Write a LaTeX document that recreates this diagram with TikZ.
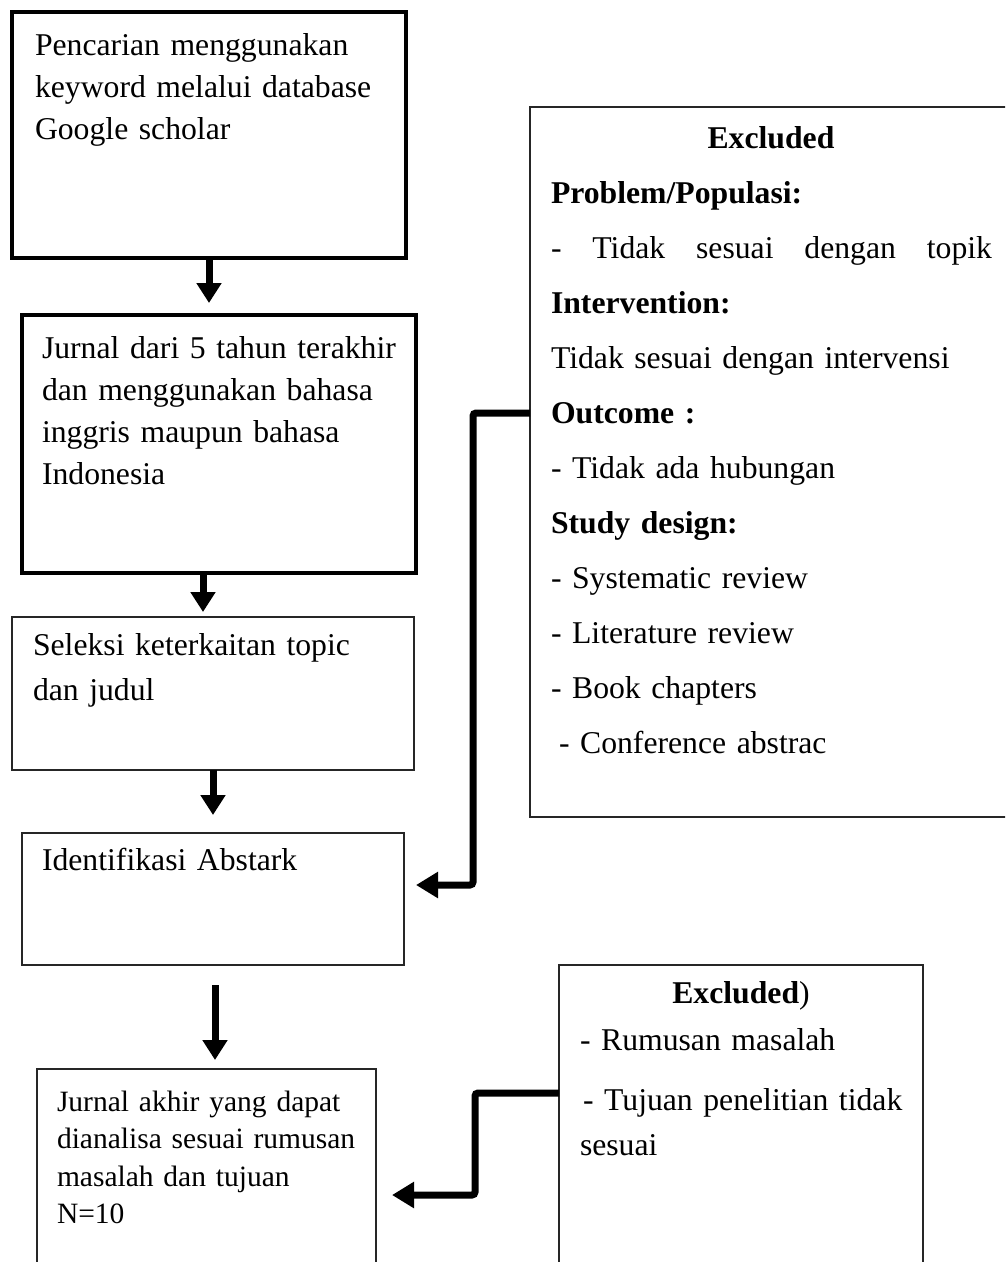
\documentclass[tikz,border=0pt]{standalone}
\usepackage{fontspec}
\setmainfont{Liberation Serif}
\usetikzlibrary{arrows.meta}
\tikzset{
  thickbox/.style={draw, line width=4.5pt, inner sep=0, outer sep=0, anchor=north west},
  thinbox/.style={draw=black!85, line width=1.3pt, inner sep=0, outer sep=0, anchor=north west},
  txt/.style={anchor=base west, inner sep=0, outer sep=0, text width=470pt, align=left,
    font=\fontsize{31.7}{42}\selectfont},
  flow/.style={line width=7pt, -{Triangle[width=24pt,length=20pt]}},
  elbow/.style={line width=7pt, rounded corners=3pt, -{Triangle[width=25pt,length=22pt]}}
}
\begin{document}
\begin{tikzpicture}[x=1pt,y=-1pt]
            \path[use as bounding box, clip] (0,0) rectangle (1005,1262);
            \fill[white] (0,0) rectangle (1005,1262);

            \node[thickbox, minimum width=394, minimum height=246] (b1) at (12,12) {};
            \node[thickbox, minimum width=394, minimum height=258] (b2) at (22,315) {};
            \node[thinbox, minimum width=402, minimum height=153] (b3) at (12,617) {};
            \node[thinbox, minimum width=382, minimum height=132] (b4) at (22,833) {};
            \node[thinbox, minimum width=339, minimum height=240] (b5) at (37,1069) {};
            \node[thinbox, minimum width=490, minimum height=710] (exA) at (530,107) {};
            \node[thinbox, minimum width=364, minimum height=320] (exB) at (559,965) {};

            \node[txt] (t1) at ([shift={(23,43)}]b1.north west) {Pencarian menggunakan\\ keyword melalui database\\ Google scholar};
            \node[txt] (t2) at ([shift={(20,43)}]b2.north west) {Jurnal dari 5 tahun terakhir\\ dan menggunakan bahasa\\ inggris maupun bahasa\\ Indonesia};
            \node[txt, font=\fontsize{31.7}{45}\selectfont] (t3) at ([shift={(21,38)}]b3.north west) {Seleksi keterkaitan topic\\ dan judul};
            \node[txt] (t4) at ([shift={(20,37)}]b4.north west) {Identifikasi Abstark};
            \node[txt, font=\fontsize{29.5}{37.5}\selectfont] (t5) at ([shift={(20,42)}]b5.north west) {Jurnal akhir yang dapat\\ dianalisa sesuai rumusan\\ masalah dan tujuan\\ N=10};

            \node[txt, font=\fontsize{31.7}{55}\selectfont] (tA) at ([shift={(21,41)}]exA.north west) {\makebox[440pt]{\textbf{Excluded}}\\
              \textbf{Problem/Populasi:}\\
              \makebox[441pt][l]{-\hfill Tidak\hfill sesuai\hfill dengan\hfill topik}\\
              \textbf{Intervention:}\\
              Tidak sesuai dengan intervensi\\
              \textbf{Outcome :}\\
              - Tidak ada hubungan\\
              \textbf{Study design:}\\
              - Systematic review\\
              - Literature review\\
              - Book chapters\\
              \hspace*{8pt}- Conference abstrac};

            \node[anchor=base, inner sep=0, font=\fontsize{31.7}{42}\selectfont] (hB) at ([yshift=-38pt]exB.north) {\textbf{Excluded})};
            \node[txt, font=\fontsize{31.7}{45}\selectfont] (tB) at ([shift={(21,85)}]exB.north west) {- Rumusan masalah\\[15pt]
              \hspace*{3pt}- Tujuan penelitian tidak\\ sesuai};

            \draw[flow, shorten >=12pt] (b1.south) -- (b1.south |- b2.north);
            \draw[flow, shorten >=5pt] ([xshift=-16pt]b2.south) -- ([xshift=-16pt]b2.south |- b3.north);
            \draw[flow, shorten >=18pt] (b3.south) -- (b3.south |- b4.north);
            \draw[flow, shorten <=20pt, shorten >=9pt] ([xshift=2pt]b4.south) -- ([xshift=2pt]b4.south |- b5.north);

            \draw[elbow] ([yshift=-306pt]exA.north west) -| ([xshift=69pt,yshift=14pt]b4.east) -- ([xshift=12pt,yshift=14pt]b4.east);
            \draw[elbow] ([yshift=-128pt]exB.north west) -| ([xshift=99pt,yshift=-6pt]b5.east) -- ([xshift=16pt,yshift=-6pt]b5.east);
\end{tikzpicture}
\end{document}
